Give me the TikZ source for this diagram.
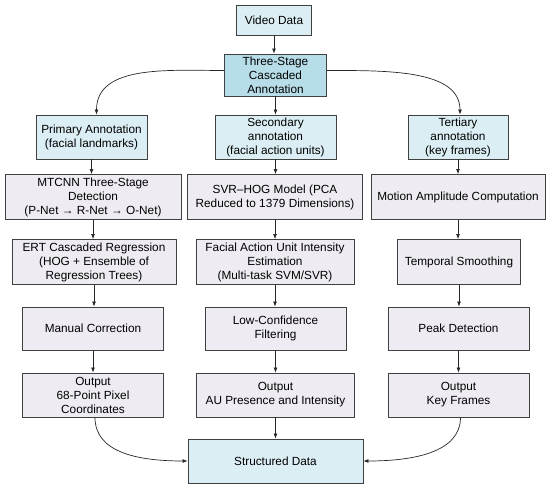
\documentclass[tikz,border=0pt]{standalone}
\usepackage{fontspec}
\setmainfont{Liberation Sans}
\usepackage{tikz}
\usetikzlibrary{arrows.meta}
\usepackage{xcolor}
\definecolor{annoblue}{RGB}{219,238,244}
\definecolor{stageblue}{RGB}{183,221,232}
\definecolor{procgray}{RGB}{238,236,242}
\definecolor{edgegray}{RGB}{64,64,64}

\begin{document}
\begin{tikzpicture}[x=1pt,y=-1pt,
  box/.style={draw=edgegray,line width=0.9pt,align=center,inner sep=1pt,font=\fontsize{11.8}{14}\selectfont},
  anno/.style={box,fill=annoblue},
  proc/.style={box,fill=procgray},
  arr/.style={-{Latex[length=5pt,width=4pt]},line width=0.7pt,black!85}]
\useasboundingbox (0,0) rectangle (550,489);
\node[anno,minimum width=75pt,minimum height=30pt] (video) at (274,20) {Video Data};
\node[box,fill=stageblue,minimum width=102pt,minimum height=42pt] (three) at (275.5,75) {Three-Stage\\Cascaded\\Annotation};
\node[anno,minimum width=111pt,minimum height=44pt] (prim) at (91.5,137) {Primary Annotation\\(facial landmarks)};
\node[anno,minimum width=121pt,minimum height=44pt] (sec) at (275.5,137) {Secondary\\annotation\\(facial action units)};
\node[anno,minimum width=100pt,minimum height=44pt] (tert) at (458,137) {Tertiary\\annotation\\(key frames)};
\node[proc,minimum width=176pt,minimum height=45pt] (mtcnn) at (93,197) {MTCNN Three-Stage\\Detection\\(P-Net → R-Net → O-Net)};
\node[proc,minimum width=175pt,minimum height=45pt] (svr) at (275,197) {SVR–HOG Model (PCA\\Reduced to 1379 Dimensions)};
\node[proc,minimum width=174pt,minimum height=45pt] (motion) at (458,197) {Motion Amplitude Computation};
\node[proc,minimum width=164pt,minimum height=45pt] (ert) at (94,262) {ERT Cascaded Regression\\(HOG + Ensemble of\\Regression Trees)};
\node[proc,minimum width=158pt,minimum height=45pt] (fau) at (275,262) {Facial Action Unit Intensity\\Estimation\\(Multi-task SVM/SVR)};
\node[proc,minimum width=123pt,minimum height=45pt] (temp) at (459,262) {Temporal Smoothing};
\node[proc,minimum width=141pt,minimum height=43pt] (manual) at (93,328.5) {Manual Correction};
\node[proc,minimum width=141pt,minimum height=43pt] (lowconf) at (275.5,328.5) {Low-Confidence\\Filtering};
\node[proc,minimum width=141pt,minimum height=43pt] (peak) at (458.5,328.5) {Peak Detection};
\node[proc,minimum width=141pt,minimum height=44pt] (out1) at (93,395) {Output\\68-Point Pixel\\Coordinates};
\node[proc,minimum width=158pt,minimum height=44pt] (out2) at (275.5,395) {Output\\AU Presence and Intensity};
\node[proc,minimum width=141pt,minimum height=44pt] (out3) at (458.5,395) {Output\\Key Frames};
\node[anno,minimum width=175pt,minimum height=44pt] (data) at (275.5,461) {Structured Data};
% straight links, column by column
\foreach \a/\b in {video/three,three/sec,prim/mtcnn,mtcnn/ert,ert/manual,manual/out1,
  sec/svr,svr/fau,fau/lowconf,lowconf/out2,out2/data,tert/motion,motion/temp,temp/peak,peak/out3}
  \draw[arr] (\a.south) -- (\a.south |- \b.north);
% curved links
\draw[arr] (three.175) .. controls +(-55,0) and +(0,-50) .. ([xshift=5pt]prim.north);
\draw[arr] (three.5) .. controls +(60,0) and +(0,-45) .. ([xshift=2pt]tert.north);
\draw[arr] ([xshift=2pt]out1.south) .. controls +(0,35) and +(-50,0) .. (data.west);
\draw[arr] ([xshift=2pt]out3.south) .. controls +(0,35) and +(50,0) .. (data.east);
\end{tikzpicture}
\end{document}
